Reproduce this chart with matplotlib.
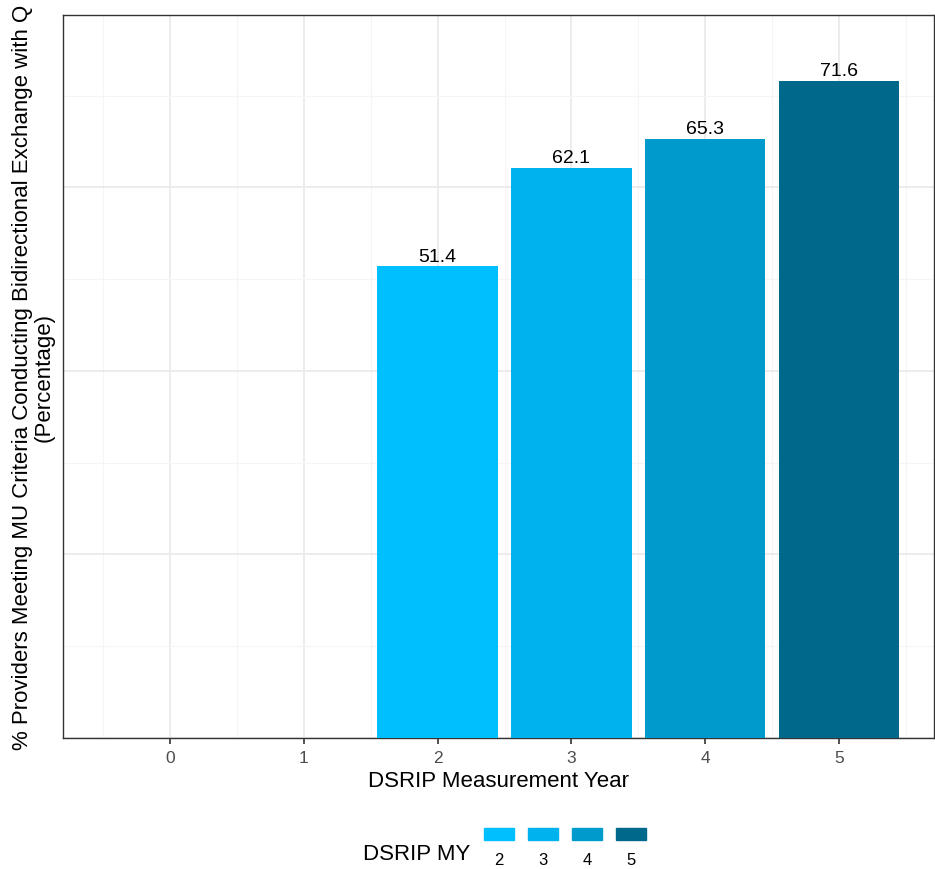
import numpy as np
import matplotlib.pyplot as plt
from matplotlib.ticker import MultipleLocator

plt.rcParams['font.family'] = ['Liberation Sans', 'DejaVu Sans']

years = [2, 3, 4, 5]
values = [51.4, 62.1, 65.3, 71.6]
colors = ['#00BFFF', '#00B2EE', '#009ACD', '#00688B']
xticks = [0, 1, 2, 3, 4, 5]

fig = plt.figure(figsize=(9.35, 8.7), dpi=100)
ax = fig.add_axes([63/935, 131/870, 871/935, 723/870])

ax.bar(years, values, width=0.9, color=colors, zorder=3)
for x, v in zip(years, values):
    ax.text(x, v + 0.2, f"{v:.1f}", ha='center', va='bottom', fontsize=14, color='black', zorder=4)

ax.set_xlim(-0.8, 5.71)
ax.set_ylim(0, 78.8)
ax.set_xticks(xticks)
ax.xaxis.set_minor_locator(MultipleLocator(1, offset=0.5))
ax.yaxis.set_major_locator(MultipleLocator(20))
ax.yaxis.set_minor_locator(MultipleLocator(10))
ax.grid(which='major', color='#EBEBEB', linewidth=1.3, zorder=0)
ax.grid(which='minor', color='#F5F5F5', linewidth=0.8, zorder=0)
ax.tick_params(axis='y', which='both', left=False, labelleft=False)
ax.tick_params(axis='x', which='minor', bottom=False)
ax.tick_params(axis='x', which='major', length=4, width=1.2, color='#333333',
               labelsize=12.5, labelcolor='#4D4D4D', pad=5)
for s in ax.spines.values():
    s.set_color('#333333')
    s.set_linewidth(1.0)

ax.set_xlabel("DSRIP Measurement Year", fontsize=16, labelpad=3)
ax.set_ylabel("% Providers Meeting MU Criteria Conducting Bidirectional Exchange with Q\n(Percentage)",
              fontsize=16, labelpad=6, linespacing=1.05)

# legend drawn at bottom
lax = fig.add_axes([0, 0, 1, 1], facecolor='none')
lax.set_xlim(0, 935)
lax.set_ylim(870, 0)
lax.axis('off')
key_x = [484, 528, 572, 616]
for kx, c, yr in zip(key_x, colors, years):
    lax.add_patch(plt.Rectangle((kx, 829), 30, 12, color=c))
    lax.text(kx + 15, 861, str(yr), ha='center', va='center', fontsize=12)
lax.text(470, 855, "DSRIP MY", ha='right', va='center', fontsize=16)

fig.savefig("out.png", dpi=100)
